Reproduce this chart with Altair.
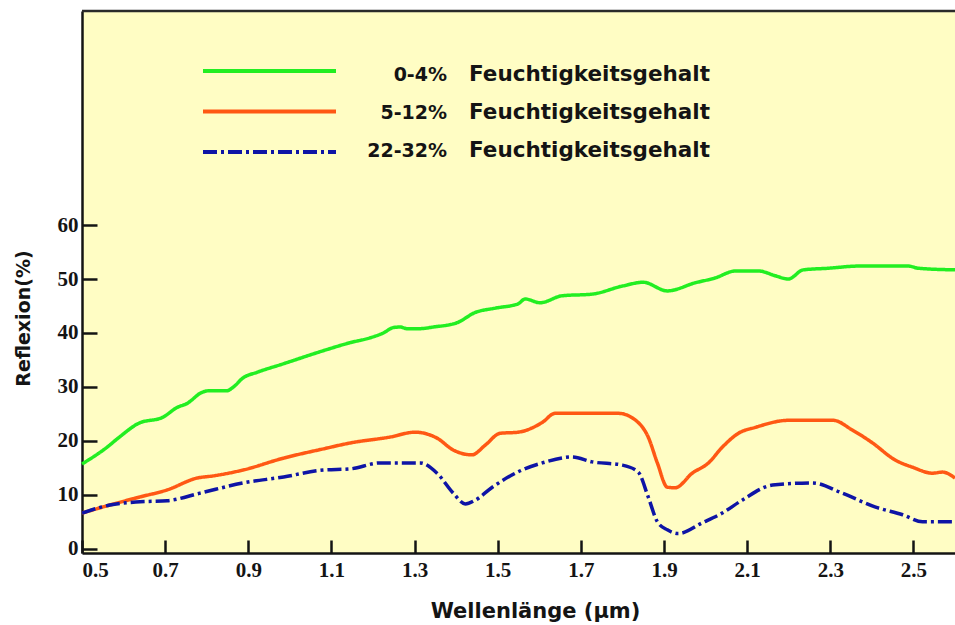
import altair as alt
import pandas as pd

# ---- data ----
series_names = ["0-4% Feuchtigkeitsgehalt", "5-12% Feuchtigkeitsgehalt", "22-32% Feuchtigkeitsgehalt"]
series_colors = ["#22EE22", "#FF5814", "#0E14A6"]

wl_dry = [0.5, 0.56, 0.59, 0.635, 0.695, 0.729, 0.752, 0.789, 0.808, 0.849, 0.863, 0.888, 0.921, 0.985,
          1.08, 1.145, 1.193, 1.225, 1.249, 1.265, 1.282, 1.313, 1.345, 1.402, 1.446, 1.494, 1.549, 1.566,
          1.602, 1.655, 1.727, 1.80, 1.85, 1.908, 1.975, 2.023, 2.072, 2.127, 2.168, 2.199, 2.235, 2.295,
          2.368, 2.488, 2.512, 2.60]
refl_dry = [15.7, 18.8, 20.7, 23.2, 24.4, 26.2, 26.9, 29.0, 29.3, 29.3, 29.9, 31.7, 32.7, 34.3,
            36.7, 38.2, 39.1, 40.0, 41.0, 41.1, 40.8, 40.8, 41.1, 41.9, 43.8, 44.6, 45.4, 46.3,
            45.6, 46.9, 47.2, 48.7, 49.4, 47.8, 49.3, 50.2, 51.5, 51.5, 50.6, 50.0, 51.7, 52.0,
            52.4, 52.4, 52.0, 51.7]

wl_mid = [0.5, 0.567, 0.64, 0.705, 0.777, 0.816, 0.888, 0.985, 1.08, 1.145, 1.241, 1.301, 1.354, 1.393,
          1.438, 1.47, 1.506, 1.549, 1.607, 1.638, 1.79, 1.838, 1.862, 1.884, 1.908, 1.927, 1.968, 2.007,
          2.04, 2.079, 2.12, 2.199, 2.307, 2.353, 2.40, 2.457, 2.498, 2.546, 2.57, 2.60]
refl_mid = [6.6, 8.1, 9.6, 10.9, 13.1, 13.5, 14.6, 16.8, 18.5, 19.6, 20.7, 21.6, 20.5, 18.3,
            17.4, 19.2, 21.4, 21.6, 23.4, 25.1, 25.1, 23.4, 20.7, 15.9, 11.4, 11.3, 14.0, 15.9,
            18.8, 21.4, 22.5, 23.8, 23.8, 22.0, 19.7, 16.4, 15.1, 14.0, 14.2, 13.1]

wl_wet = [0.5, 0.567, 0.64, 0.705, 0.784, 0.888, 0.985, 1.08, 1.145, 1.217, 1.313, 1.354, 1.393, 1.422,
          1.446, 1.487, 1.559, 1.607, 1.679, 1.727, 1.80, 1.838, 1.862, 1.884, 1.908, 1.934, 1.992, 2.04,
          2.088, 2.161, 2.257, 2.329, 2.409, 2.474, 2.522, 2.60]
refl_wet = [6.6, 8.1, 8.7, 8.9, 10.3, 12.2, 13.3, 14.6, 14.8, 15.9, 15.9, 14.0, 10.3, 8.3,
            9.0, 11.4, 14.6, 15.9, 17.0, 16.1, 15.5, 14.2, 9.6, 5.0, 3.5, 2.8, 4.8, 6.6,
            9.0, 11.8, 12.2, 10.3, 7.7, 6.3, 5.0, 5.0]

x_ticks = [0.5, 0.7, 0.9, 1.1, 1.3, 1.5, 1.7, 1.9, 2.1, 2.3, 2.5]
y_ticks = [0, 10, 20, 30, 40, 50, 60]

# ---- tables ----
rows = []
for name, ws, rs in zip(series_names, [wl_dry, wl_mid, wl_wet], [refl_dry, refl_mid, refl_wet]):
    for w, r in zip(ws, rs):
        rows.append({"series": name, "w": w, "r": r})
df = pd.DataFrame(rows)

W, H = 873, 542
XTICK, YTICK = 13, 15
xscale = alt.Scale(domain=[0.5, 2.6], nice=False, zero=False)
yscale = alt.Scale(domain=[-0.8, 99.7], nice=False, zero=False)
dashes = [[1, 0], [1, 0], [14, 4, 3, 4]]
INK = "#141414"

# inward ticks: grid lines dashed so that only a short piece next to the axis is drawn
lines = alt.Chart(df).mark_line(strokeWidth=3.5, interpolate="monotone", strokeCap="butt").encode(
    x=alt.X("w:Q", scale=xscale, axis=alt.Axis(
        values=x_ticks, format=".1f", title="Wellenlänge (µm)", ticks=False,
        grid=True, gridColor=INK, gridWidth=2.5, gridOpacity=1, gridDash=[0, H - XTICK, XTICK, 3000],
        domainColor=INK, domainWidth=2.5, labelFont="Liberation Serif", labelFontWeight="bold",
        labelFontSize=21, labelColor=INK, labelPadding=6, labelFlush=True,
        titleFont="DejaVu Sans", titleFontWeight="bold", titleFontSize=21, titleColor=INK,
        titleX=453, titleY=58, titleBaseline="middle", titleAlign="center")),
    y=alt.Y("r:Q", scale=yscale, axis=alt.Axis(
        values=y_ticks, title="Reflexion(%)", ticks=False,
        grid=True, gridColor=INK, gridWidth=2.5, gridOpacity=1, gridDash=[YTICK, 3000],
        domainColor=INK, domainWidth=2.5, labelFont="Liberation Serif", labelFontWeight="bold",
        labelFontSize=21, labelColor=INK, labelPadding=4,
        titleFont="DejaVu Sans", titleFontWeight="bold", titleFontSize=19, titleColor=INK,
        titleX=-59, titleY=307, titleAngle=270, titleBaseline="middle", titleAlign="center")),
    color=alt.Color("series:N", scale=alt.Scale(domain=series_names, range=series_colors), legend=None),
    strokeDash=alt.StrokeDash("series:N", scale=alt.Scale(domain=series_names, range=dashes), legend=None),
    order=alt.Order("w:Q"),
)

top_rule = alt.Chart(pd.DataFrame({"k": [0]})).mark_rule(color="#2a2a2a", strokeWidth=2.5).encode(
    x=alt.value(0), x2=alt.value(W), y=alt.value(0))

# ---- manual legend ----
legend_layers = []
for i, (name, col, dash) in enumerate(zip(series_names, series_colors, dashes)):
    num, word = name.split(" ", 1)
    ld = pd.DataFrame({"num": [num], "word": [word]})
    ly = 60 + 40.5 * i
    ty = 64 + 38 * i
    legend_layers.append(alt.Chart(ld).mark_rule(color=col, strokeWidth=4, strokeDash=dash).encode(
        x=alt.value(121), x2=alt.value(254), y=alt.value(ly)))
    legend_layers.append(alt.Chart(ld).mark_text(
        align="right", baseline="middle", font="DejaVu Sans", fontWeight="bold", fontSize=19, color=INK
    ).encode(text="num:N", x=alt.value(365), y=alt.value(ty)))
    legend_layers.append(alt.Chart(ld).mark_text(
        align="left", baseline="middle", font="DejaVu Sans", fontWeight="bold", fontSize=21.5, color=INK
    ).encode(text="word:N", x=alt.value(387), y=alt.value(ty)))

chart = alt.layer(top_rule, lines, *legend_layers).properties(
    width=W, height=H,
    padding={"left": 82, "top": 11, "right": 0, "bottom": 72},
    autosize=alt.AutoSizeParams(type="none"),
    background="white",
).configure_view(fill="#FFFDC4", stroke=None)

chart.save("out.html", embed_options={"renderer": "svg", "actions": False})
